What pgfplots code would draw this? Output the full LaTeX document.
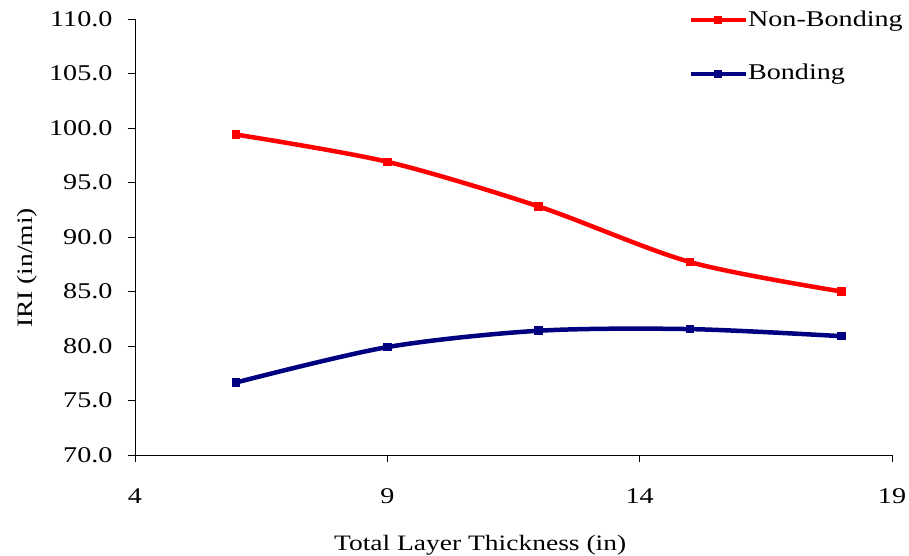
\documentclass[border=0pt]{standalone}
\usepackage{fontspec}
\setmainfont{Liberation Serif}[FakeStretch=1.25]
\usepackage{pgfplots}
\pgfplotsset{compat=1.18}
\definecolor{nb}{RGB}{255,0,0}
\definecolor{bd}{RGB}{0,0,128}
\begin{document}
\fontsize{22bp}{26bp}\selectfont
\begin{tikzpicture}
\path[use as bounding box] (-135bp,-101bp) rectangle (774bp,455bp);
\begin{axis}[
  scale only axis, width=757bp, height=436bp,
  at={(0,0)}, anchor=south west,
  xmin=4, xmax=19, ymin=70, ymax=110,
  xtick={4,9,14,19}, ytick={70,75,...,110},
  axis x line*=bottom, axis y line*=left,
  tick align=outside, major tick length=7bp,
  tick style={black, line width=0.8bp},
  axis line style={black, line width=0.8bp},
  /pgf/number format/assume math mode=true,
  yticklabel style={/pgf/number format/fixed, /pgf/number format/fixed zerofill, /pgf/number format/precision=1, xshift=-8bp},
  xticklabel style={yshift=-19bp},
  tick label style={font=\fontsize{22.5bp}{26bp}\selectfont},
  label style={font=\fontsize{22bp}{26bp}\selectfont},
  xlabel={Total Layer Thickness (in)},
  ylabel={IRI (in/mi)},
  xlabel style={at={(axis description cs:0.456,-0.207)}, anchor=center},
  ylabel style={at={(axis description cs:-0.1427,0.429)}, anchor=center},
  legend style={at={(axis description cs:0.731,1.02)}, anchor=north west,
    draw=none, fill=none, inner sep=0pt, row sep=35bp, column sep=0pt,
    font=\fontsize{22.5bp}{26bp}\selectfont,
    nodes={inner sep=0pt, anchor=west}},
  legend cell align=left,
  legend image code/.code={\draw[#1, mark repeat=2, mark phase=2] plot coordinates {(0bp,0bp) (27bp,0bp) (55bp,0bp)};},
]
\addplot[color=nb, line width=4.5bp, smooth, mark=square*, mark size=2bp, mark options={solid}]
  coordinates {(6,99.4) (9,96.9) (12,92.8) (15,87.7) (18,85.0)};
\addlegendentry{Non-Bonding}
\addplot[color=bd, line width=4.5bp, smooth, mark=square*, mark size=2bp, mark options={solid}]
  coordinates {(6,76.65) (9,79.9) (12,81.4) (15,81.55) (18,80.9)};
\addlegendentry{Bonding}
\end{axis}
\end{tikzpicture}
\end{document}
